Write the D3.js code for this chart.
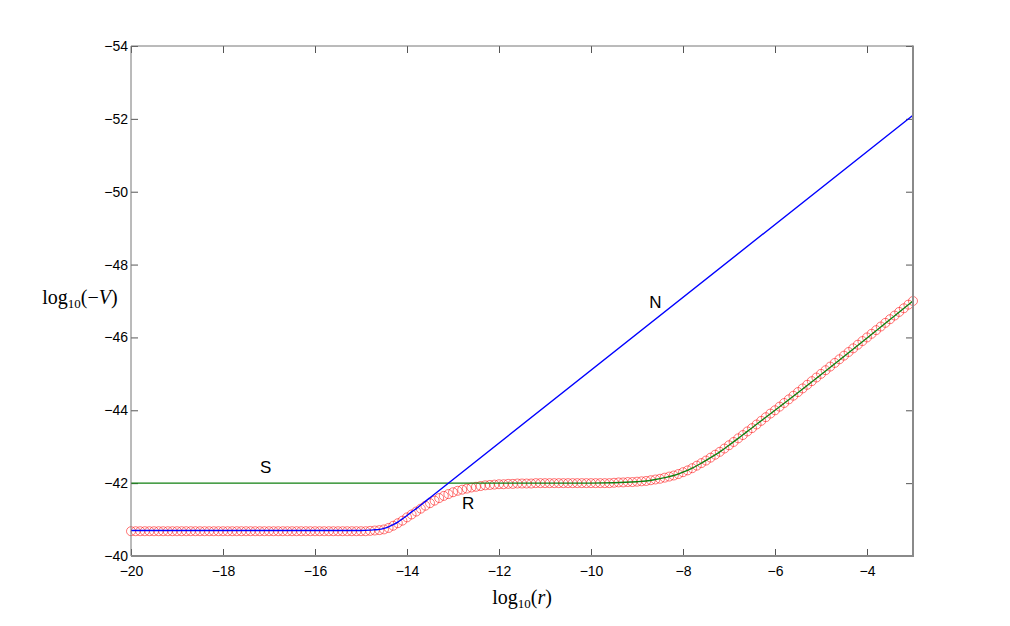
<!DOCTYPE html>
<html>
<head>
<meta charset="utf-8">
<script src="https://cdn.jsdelivr.net/npm/d3@7"></script>
<style>
  html, body { margin: 0; padding: 0; background: #fff; }
  svg { display: block; }
  .tick text { font-family: "Liberation Sans", Arial, sans-serif; font-size: 14px; fill: #000; }
</style>
</head>
<body>
<svg id="chart" width="1010" height="626"></svg>
<script>
// ---------- data ----------
const xTicks = [-20, -18, -16, -14, -12, -10, -8, -6, -4];
const yTicks = [-54, -52, -50, -48, -46, -44, -42, -40];

// N curve (blue line)
const nX = [-20, -15, -14.8, -14.7, -14.6, -14.5, -14.4, -14.3, -14.2, -14.1, -14, -13.9, -13.8, -13.7, -13.6, -13.5, -3];
const nY = [-40.70, -40.70, -40.71, -40.72, -40.73, -40.76, -40.80, -40.86, -40.93, -41.02, -41.11, -41.21, -41.30, -41.40, -41.50, -41.60, -52.10];

// S curve (green line)
const sX = [-20, -10, -9, -8.8, -8.6, -8.4, -8.2, -8, -7.8, -7.6, -7.4, -7.2, -7, -6.8, -6.6, -6.2, -6, -3];
const sY = [-42.00, -42.00, -42.04, -42.06, -42.10, -42.15, -42.21, -42.30, -42.41, -42.55, -42.70, -42.86, -43.04, -43.23, -43.42, -43.81, -44.00, -47.00];

// R samples (red circles)
const rX = [
  -20,-19.9,-19.8,-19.7,-19.6,-19.5,-19.4,-19.3,-19.2,-19.1,
  -19,-18.9,-18.8,-18.7,-18.6,-18.5,-18.4,-18.3,-18.2,-18.1,
  -18,-17.9,-17.8,-17.7,-17.6,-17.5,-17.4,-17.3,-17.2,-17.1,
  -17,-16.9,-16.8,-16.7,-16.6,-16.5,-16.4,-16.3,-16.2,-16.1,
  -16,-15.9,-15.8,-15.7,-15.6,-15.5,-15.4,-15.3,-15.2,-15.1,
  -15,-14.9,-14.8,-14.7,-14.6,-14.5,-14.4,-14.3,-14.2,-14.1,
  -14,-13.9,-13.8,-13.7,-13.6,-13.5,-13.4,-13.3,-13.2,-13.1,
  -13,-12.9,-12.8,-12.7,-12.6,-12.5,-12.4,-12.3,-12.2,-12.1,
  -12,-11.9,-11.8,-11.7,-11.6,-11.5,-11.4,-11.3,-11.2,-11.1,
  -11,-10.9,-10.8,-10.7,-10.6,-10.5,-10.4,-10.3,-10.2,-10.1,
  -10,-9.9,-9.8,-9.7,-9.6,-9.5,-9.4,-9.3,-9.2,-9.1,
  -9,-8.9,-8.8,-8.7,-8.6,-8.5,-8.4,-8.3,-8.2,-8.1,
  -8,-7.9,-7.8,-7.7,-7.6,-7.5,-7.4,-7.3,-7.2,-7.1,
  -7,-6.9,-6.8,-6.7,-6.6,-6.5,-6.4,-6.3,-6.2,-6.1,
  -6,-5.9,-5.8,-5.7,-5.6,-5.5,-5.4,-5.3,-5.2,-5.1,
  -5,-4.9,-4.8,-4.7,-4.6,-4.5,-4.4,-4.3,-4.2,-4.1,
  -4,-3.9,-3.8,-3.7,-3.6,-3.5,-3.4,-3.3,-3.2,-3.1,
  -3
];
const rY = [
  -40.68,-40.68,-40.68,-40.68,-40.68,-40.68,-40.68,-40.68,-40.68,-40.68,
  -40.68,-40.68,-40.68,-40.68,-40.68,-40.68,-40.68,-40.68,-40.68,-40.68,
  -40.68,-40.68,-40.68,-40.68,-40.68,-40.68,-40.68,-40.68,-40.68,-40.68,
  -40.68,-40.68,-40.68,-40.68,-40.68,-40.68,-40.68,-40.68,-40.68,-40.68,
  -40.68,-40.68,-40.68,-40.68,-40.68,-40.68,-40.68,-40.68,-40.68,-40.68,
  -40.68,-40.68,-40.69,-40.70,-40.71,-40.73,-40.77,-40.83,-40.90,-40.97,
  -41.06,-41.14,-41.22,-41.30,-41.38,-41.45,-41.52,-41.59,-41.65,-41.70,
  -41.75,-41.79,-41.82,-41.85,-41.88,-41.90,-41.92,-41.94,-41.95,-41.96,
  -41.97,-41.97,-41.98,-41.98,-41.99,-41.99,-41.99,-41.99,-42.00,-42.00,
  -42.00,-42.00,-42.00,-42.00,-42.00,-42.00,-42.00,-42.00,-42.00,-42.00,
  -42.00,-42.00,-42.00,-42.00,-42.00,-42.01,-42.02,-42.02,-42.03,-42.03,
  -42.04,-42.05,-42.06,-42.08,-42.10,-42.12,-42.15,-42.18,-42.21,-42.25,
  -42.30,-42.35,-42.41,-42.48,-42.55,-42.62,-42.70,-42.78,-42.86,-42.95,
  -43.04,-43.13,-43.23,-43.32,-43.42,-43.51,-43.61,-43.71,-43.81,-43.91,
  -44.00,-44.10,-44.20,-44.30,-44.40,-44.50,-44.60,-44.70,-44.80,-44.90,
  -45.00,-45.10,-45.20,-45.30,-45.40,-45.50,-45.60,-45.70,-45.80,-45.90,
  -46.00,-46.10,-46.20,-46.30,-46.40,-46.50,-46.60,-46.70,-46.80,-46.90,
  -47.00
];

// curve labels
const curveLabels = ["N", "S", "R"];
const labelX = [-8.6, -17.07, -12.67];
const labelY = [-46.97, -42.42, -41.44];

// ---------- drawing ----------
const svg = d3.select("#chart");
const L = 131, R = 913, T = 46, B = 556;

const x = d3.scaleLinear().domain([-20, -3]).range([L, R]);
const y = d3.scaleLinear().domain([-40, -54]).range([B, T]);

svg.append("rect").attr("width", 1010).attr("height", 626).attr("fill", "#fff");

// axes with inward ticks
function styleAxis(g) {
  g.select(".domain").remove();
  g.selectAll(".tick line").attr("stroke", "#555").attr("stroke-width", 1);
}
const fmt = d => d < 0 ? "\u2212" + Math.abs(d) : d;
svg.append("g").attr("transform", `translate(0,${B})`)
  .call(d3.axisBottom(x).tickValues(xTicks).tickSizeInner(-7).tickSizeOuter(0).tickPadding(10).tickFormat(fmt))
  .call(styleAxis);
svg.append("g").attr("transform", `translate(0,${T})`)
  .call(d3.axisTop(x).tickValues(xTicks).tickSizeInner(-7).tickSizeOuter(0).tickFormat(""))
  .call(styleAxis);
svg.append("g").attr("transform", `translate(${L},0)`)
  .call(d3.axisLeft(y).tickValues(yTicks).tickSizeInner(-7).tickSizeOuter(0).tickPadding(3).tickFormat(fmt))
  .call(styleAxis);
svg.append("g").attr("transform", `translate(${R},0)`)
  .call(d3.axisRight(y).tickValues(yTicks).tickSizeInner(-7).tickSizeOuter(0).tickFormat(""))
  .call(styleAxis);

// plot data
const plot = svg.append("g");
const rData = rX.map((v, i) => [v, rY[i]]);
plot.selectAll("circle.r").data(rData).join("circle")
  .attr("class", "r")
  .attr("cx", d => x(d[0])).attr("cy", d => y(d[1])).attr("r", 4.5)
  .attr("fill", "none").attr("stroke", "#ff0000").attr("stroke-width", 0.6).attr("stroke-opacity", 0.9);

const line = d3.line().x(d => x(d[0])).y(d => y(d[1])).curve(d3.curveMonotoneX);
plot.append("path").datum(sX.map((v, i) => [v, sY[i]]))
  .attr("d", line).attr("fill", "none").attr("stroke", "#108010").attr("stroke-width", 1.4);
plot.append("path").datum(nX.map((v, i) => [v, nY[i]]))
  .attr("d", line).attr("fill", "none").attr("stroke", "#0000ff").attr("stroke-width", 1.4);

// curve labels
svg.selectAll("text.lbl").data(curveLabels).join("text")
  .attr("class", "lbl")
  .attr("x", (d, i) => x(labelX[i])).attr("y", (d, i) => y(labelY[i]))
  .attr("text-anchor", "middle").attr("dominant-baseline", "central")
  .attr("font-family", "Liberation Sans, Arial, sans-serif").attr("font-size", 17)
  .text(d => d);

// frame
svg.append("line").attr("x1", L).attr("x2", L).attr("y1", T).attr("y2", B).attr("stroke", "#777").attr("stroke-width", 1);
svg.append("line").attr("x1", L).attr("x2", R).attr("y1", T).attr("y2", T).attr("stroke", "#777").attr("stroke-width", 1);
svg.append("line").attr("x1", R).attr("x2", R).attr("y1", T - 0.5).attr("y2", B + 1).attr("stroke", "#8a8a8a").attr("stroke-width", 2);
svg.append("line").attr("x1", L).attr("x2", R + 1).attr("y1", B).attr("y2", B).attr("stroke", "#8a8a8a").attr("stroke-width", 2);

// axis labels (LaTeX style)
const xl = svg.append("text").attr("x", (L + R) / 2).attr("y", 604)
  .attr("text-anchor", "middle").attr("font-family", "Liberation Serif, 'Times New Roman', serif").attr("font-size", 20);
xl.append("tspan").text("log");
xl.append("tspan").attr("font-size", 13).attr("dy", 4).text("10");
xl.append("tspan").attr("dy", -4).text("(");
xl.append("tspan").attr("font-style", "italic").text("r");
xl.append("tspan").text(")");

const yl = svg.append("text").attr("x", 80).attr("y", 304)
  .attr("text-anchor", "middle").attr("font-family", "Liberation Serif, 'Times New Roman', serif").attr("font-size", 20);
yl.append("tspan").text("log");
yl.append("tspan").attr("font-size", 13).attr("dy", 4).text("10");
yl.append("tspan").attr("dy", -4).text("(\u2212");
yl.append("tspan").attr("font-style", "italic").text("V");
yl.append("tspan").text(")");
</script>
</body>
</html>
